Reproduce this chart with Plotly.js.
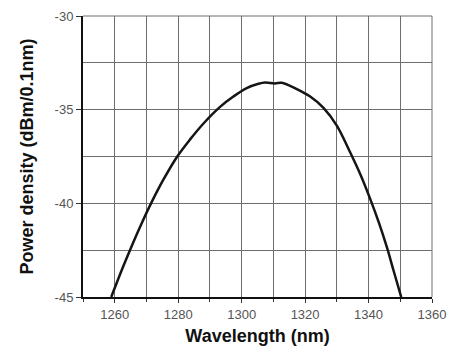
<!DOCTYPE html>
<html>
<head>
<meta charset="utf-8">
<script src="https://cdn.plot.ly/plotly-3.0.1.min.js"></script>
<style>html,body{margin:0;padding:0;background:#fff;}#chart{width:449px;height:351px;}</style>
</head>
<body>
<div id="chart"></div>
<script>
// Spectrum
var wavelength = [1258.9, 1262.6, 1265.3, 1268.4, 1271.6, 1275.2, 1279.5, 1283.7, 1287.9, 1293.2, 1297.4, 1301.6, 1305.3, 1307.4, 1310.5, 1312.6, 1317.4, 1321.6, 1325.8, 1330.0, 1333.7, 1337.4, 1340.6, 1343.2, 1345.8, 1347.9, 1350.3];
var power = [-45, -43.4, -42.3, -41.1, -39.95, -38.78, -37.55, -36.6, -35.75, -34.85, -34.3, -33.85, -33.62, -33.55, -33.6, -33.56, -33.9, -34.3, -34.9, -35.85, -37.1, -38.45, -39.8, -41.0, -42.35, -43.6, -45];
var xTickVals = [1260, 1280, 1300, 1320, 1340, 1360];
var xTickText = ['1260', '1280', '1300', '1320', '1340', '1360'];
var yTickVals = [-30, -35, -40, -45];
var yTickText = ['-30', '-35', '-40', '-45'];

var trace = {
  x: wavelength, y: power, type: 'scatter', mode: 'lines',
  line: {color: '#151515', width: 2.5, shape: 'spline', smoothing: 1},
  hoverinfo: 'skip'
};
var gridCol = '#6e6e6e';
var tickFont = {family: 'Liberation Sans, Arial, sans-serif', size: 13, color: '#555'};
var layout = {
  width: 449, height: 351,
  margin: {l: 83, r: 17, t: 16, b: 54},
  paper_bgcolor: '#fff', plot_bgcolor: '#fff',
  showlegend: false,
  xaxis: {
    range: [1250, 1360], tickmode: 'array', tickvals: xTickVals, ticktext: xTickText,
    showgrid: true, gridcolor: gridCol, gridwidth: 1,
    minor: {dtick: 10, tick0: 1250, showgrid: true, gridcolor: gridCol, gridwidth: 1, ticks: 'outside', ticklen: 3, tickcolor: '#333'},
    ticks: 'outside', ticklen: 4, tickcolor: '#333',
    showline: true, linecolor: '#111', linewidth: 2, mirror: false,
    zeroline: false, tickfont: tickFont,
    title: {text: 'Wavelength (nm)', font: {family: 'Liberation Sans, Arial, sans-serif', size: 18, color: '#111', weight: 'bold'}, standoff: 9}
  },
  yaxis: {
    range: [-45, -30], tickmode: 'array', tickvals: yTickVals, ticktext: yTickText,
    showgrid: true, gridcolor: gridCol, gridwidth: 1,
    minor: {dtick: 2.5, tick0: -45, showgrid: true, gridcolor: gridCol, gridwidth: 1},
    ticks: 'outside', ticklen: 5, tickcolor: '#333',
    showline: true, linecolor: '#111', linewidth: 2, mirror: false,
    zeroline: false, tickfont: tickFont,
    title: {text: 'Power density (dBm/0.1nm)', font: {family: 'Liberation Sans, Arial, sans-serif', size: 18, color: '#111', weight: 'bold'}, standoff: 16}
  },
  shapes: [
    {type: 'line', xref: 'paper', yref: 'paper', x0: 0, x1: 1, y0: 1, y1: 1, line: {color: gridCol, width: 1}},
    {type: 'line', xref: 'paper', yref: 'paper', x0: 1, x1: 1, y0: 0, y1: 1, line: {color: gridCol, width: 1}}
  ]
};
Plotly.newPlot('chart', [trace], layout, {staticPlot: true, displayModeBar: false});
</script>
</body>
</html>
